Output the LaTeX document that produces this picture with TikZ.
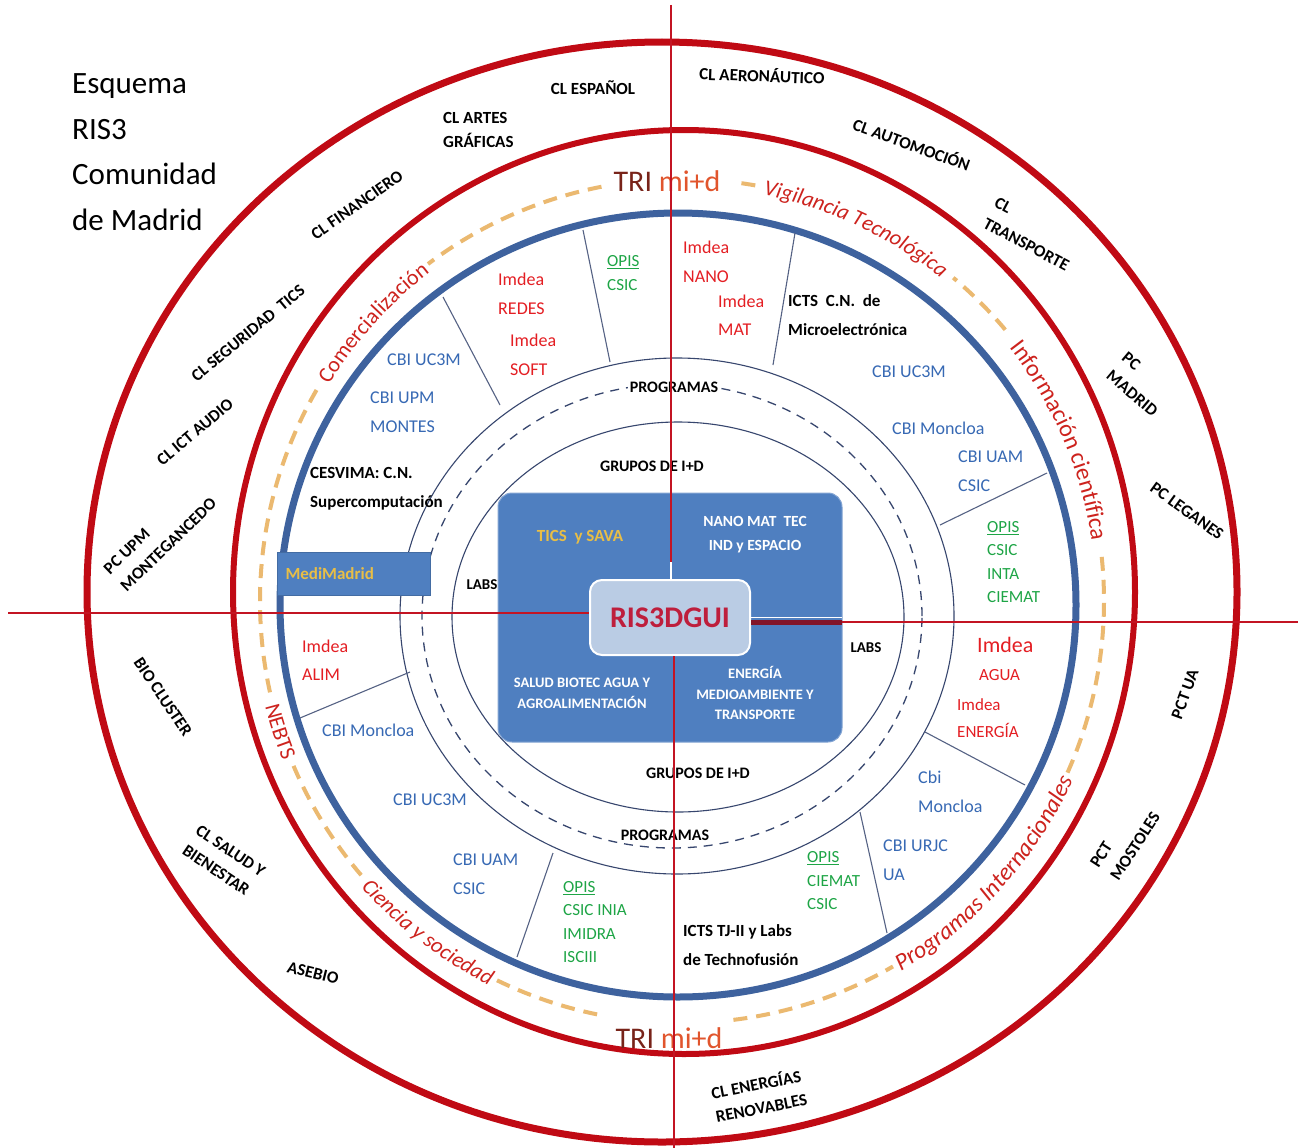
\documentclass[tikz,border=0pt]{standalone}
\usepackage{fontspec}
\setmainfont{Carlito}
\usetikzlibrary{decorations.text}
\definecolor{ringred}{RGB}{192,10,20}
\definecolor{ringblue}{RGB}{62,98,158}
\definecolor{dashor}{RGB}{235,185,112}
\definecolor{thinc}{RGB}{55,70,110}
\definecolor{boxblue}{RGB}{79,127,192}
\definecolor{risfill}{RGB}{186,204,228}
\definecolor{risred}{RGB}{190,30,60}
\definecolor{lblblue}{RGB}{55,105,180}
\definecolor{lblred}{RGB}{228,30,35}
\definecolor{lblgreen}{RGB}{30,165,70}
\definecolor{gold}{RGB}{232,190,70}
\definecolor{curvred}{RGB}{205,35,30}
\definecolor{axred}{RGB}{195,20,35}
\definecolor{axmaroon}{RGB}{130,20,40}
\definecolor{trid}{RGB}{120,35,25}
\definecolor{trio}{RGB}{225,85,45}
\newcommand\cfIt{\fontsize{22}{22}\selectfont\itshape}
\newcommand\cfBig{\fontsize{24}{24}\selectfont}
\newcommand\cfReg{\fontsize{22}{22}\selectfont}
\newcommand\cfProg{\fontsize{24}{24}\selectfont\itshape}
\tikzset{
  lab/.style={inner sep=0pt, font=\fontsize{18}{28.5}\selectfont, align=left},
  inl/.style={lab, anchor=west},
  blk/.style={inl, font=\fontsize{17}{28.5}\selectfont\bfseries},
  opisl/.style={inl, text=lblgreen, font=\fontsize{17}{23.5}\selectfont},
  outl/.style={inner sep=0pt, font=\fontsize{17}{24}\selectfont\bfseries, align=left},
  ctrl/.style={inner sep=0pt, font=\fontsize{16}{20}\selectfont\bfseries},
  qtxt/.style={inner sep=0pt, font=\fontsize{14.5}{21}\selectfont\bfseries, align=center},
  sect/.style={draw=thinc!85, line width=1.1},
  axis/.style={draw=axred, line width=2.4},
  odash/.style={draw=dashor, line width=4, dash pattern=on 14 off 9},
  ctext/.style={decorate, decoration={text along path, text align=center, text color=curvred, text={#1}}}
}
\newcommand\oarc[2]{\draw[odash] ([shift={(#1:422)}]682,-601) arc[start angle=#1, end angle=#2, radius=422];}
\begin{document}
\begin{tikzpicture}[x=1pt,y=1pt]
\useasboundingbox (0,0) rectangle (1298,-1148);
\fill[white] (0,0) rectangle (1298,-1148);
% title
\node[anchor=west, align=left, inner sep=0pt, font=\fontsize{31}{45.5}\selectfont] (ttl) at (72,-152) {Esquema\\RIS3\\Comunidad\\de Madrid};
% rings
\draw[ringred, line width=7] (662,-592) ellipse [x radius=575, y radius=550];
\draw[ringred, line width=6] (684,-592) ellipse [x radius=451, y radius=462];
\oarc{-24}{6}
\oarc{40}{50}
\oarc{80}{83}
\oarc{101}{127}
\oarc{150}{193}
\oarc{203}{221}
\oarc{244}{259}
\oarc{277}{300}
\draw[ringblue, line width=7] (678,-605) ellipse [x radius=398, y radius=392];
\draw[thinc, line width=1.1] (677,-616) ellipse [x radius=277, y radius=258];
\draw[thinc, line width=1.3, dash pattern=on 9 off 7] (672,-616) ellipse [x radius=250, y radius=232];
\draw[thinc, line width=1.1] (678,-617) ellipse [x radius=226, y radius=195];
% sector lines
\draw[sect] (443,-297) -- (500,-405);
\draw[sect] (583,-230) -- (610,-362);
\draw[sect] (795,-233) -- (773,-365);
\draw[sect] (1047,-473) -- (940,-525);
\draw[sect] (925,-732) -- (1025,-785);
\draw[sect] (860,-812) -- (887,-933);
\draw[sect] (553,-853) -- (517,-957);
\draw[sect] (300,-718) -- (410,-672);
% curved texts on orange ring
\path[ctext={|\cfIt|Vigilancia Tecnológica}] ([shift={(92:414)}]682,-601) arc[start angle=92, end angle=38, radius=414];
\path[ctext={|\cfBig|Información científica}] ([shift={(52:414)}]682,-601) arc[start angle=52, end angle=-6, radius=414];
\path[ctext={|\cfReg|Comercialización}] ([shift={(166:414)}]682,-601) arc[start angle=166, end angle=110, radius=414];
\path[ctext={|\cfProg|Programas Internacionales}] ([shift={(-74:430)}]682,-601) arc[start angle=-74, end angle=-10, radius=430];
\path[ctext={|\cfIt|Ciencia y sociedad}] ([shift={(206:430)}]682,-601) arc[start angle=206, end angle=259, radius=430];
\path[ctext={|\cfReg|NEBTS}] ([shift={(184:430)}]682,-601) arc[start angle=184, end angle=212, radius=430];
\node[inner sep=0pt, font=\fontsize{30}{30}\selectfont] (tri1) at (667,-181) {\textcolor{trid}{TRI} \textcolor{trio}{mi+d}};
\node[inner sep=0pt, font=\fontsize{30}{30}\selectfont] (tri2) at (669,-1038) {\textcolor{trid}{TRI} \textcolor{trio}{mi+d}};
% outer ring labels
\node[outl] (o1) at (593,-88) {CL ESPAÑOL};
\node[outl, rotate=-2] (o2) at (762,-75) {CL AERONÁUTICO};
\node[outl, anchor=west] (o3) at (443,-130) {CL ARTES\\GRÁFICAS};
\node[outl, rotate=-20] (o4) at (912,-144) {CL AUTOMOCIÓN};
\node[outl, rotate=-28] (o5) at (1032,-234) {CL\\TRANSPORTE};
\node[outl, rotate=-40] (o6) at (1140,-384) {PC\\MADRID};
\node[outl, rotate=-36] (o7) at (1187,-511) {PC LEGANES};
\node[outl, rotate=70] (o8) at (1185,-694) {PCT UA};
\node[outl, rotate=57] (o9) at (1125,-840) {PCT\\MOSTOLES};
\node[outl, rotate=11] (o10) at (759,-1095) {CL ENERGÍAS\\RENOVABLES};
\node[outl, rotate=-14] (o11) at (313,-973) {ASEBIO};
\node[outl, rotate=-34] (o12) at (224,-861) {CL SALUD Y\\BIENESTAR};
\node[outl, rotate=-56] (o13) at (163,-697) {BIO CLUSTER};
\node[outl, rotate=44] (o14) at (160,-536) {PC UPM\\MONTEGANCEDO};
\node[outl, rotate=40] (o15) at (195,-432) {CL ICT AUDIO};
\node[outl, rotate=39.5] (o16) at (248,-333) {CL SEGURIDAD\ \ TICS};
\node[outl, rotate=35] (o17) at (357,-205) {CL FINANCIERO};
% inner ring labels
\node[inl, text=lblblue] (i1) at (387,-360) {CBI UC3M};
\node[inl, text=lblblue] (i2) at (370,-412) {CBI UPM\\MONTES};
\node[blk] (i3) at (310,-489) {CESVIMA: C.N.\\Supercomputación};
\node[inl, text=lblred] (i4) at (498,-294) {Imdea\\REDES};
\node[inl, text=lblred] (i5) at (510,-355) {Imdea\\SOFT};
\node[opisl] (i6) at (607,-273) {\underline{OPIS}\\CSIC};
\node[inl, text=lblred] (i7) at (683,-262) {Imdea\\NANO};
\node[inl, text=lblred] (i8) at (718,-315) {Imdea\\MAT};
\node[blk] (i9) at (788,-315) {ICTS\ \ C.N.\ \ de\\Microelectrónica};
\node[inl, text=lblblue] (i10) at (872,-372) {CBI UC3M};
\node[inl, text=lblblue] (i11) at (892,-428) {CBI Moncloa};
\node[inl, text=lblblue] (i12) at (958,-471) {CBI UAM\\CSIC};
\node[opisl] (i13) at (987,-562) {\underline{OPIS}\\CSIC\\INTA\\CIEMAT};
\node[inl, text=lblred, font=\fontsize{22}{22}\selectfont] (i14) at (977,-645) {Imdea};
\node[inl, text=lblred, font=\fontsize{17}{17}\selectfont] (i14b) at (979,-675) {AGUA};
\node[inl, text=lblred, font=\fontsize{17}{27}\selectfont] (i15) at (957,-718) {Imdea\\ENERGÍA};
\node[inl, text=lblblue] (i16) at (918,-792) {Cbi\\Moncloa};
\node[inl, text=lblblue] (i17) at (883,-860) {CBI URJC\\UA};
\node[opisl] (i18) at (807,-881) {\underline{OPIS}\\CIEMAT\\CSIC};
\node[blk] (i19) at (683,-945) {ICTS TJ-II y Labs\\de Technofusión};
\node[opisl] (i20) at (563,-922) {\underline{OPIS}\\CSIC INIA\\IMIDRA\\ISCIII};
\node[inl, text=lblblue] (i21) at (453,-874) {CBI UAM\\CSIC};
\node[inl, text=lblblue] (i22) at (393,-800) {CBI UC3M};
\node[inl, text=lblblue] (i23) at (322,-730) {CBI Moncloa};
\node[inl, text=lblred] (i24) at (302,-660) {Imdea\\ALIM};
% MediMadrid box
\node[fill=boxblue, draw=boxblue!85!black, line width=1, anchor=west, minimum height=43pt, text width=137pt, inner xsep=8pt, inner ysep=0pt, align=left, text=gold, font=\fontsize{17}{17}\selectfont\bfseries] (medi) at (277,-573.5) {MediMadrid};
% circle-band labels
\node[ctrl] (g1) at (652,-466) {GRUPOS DE I+D};
\node[ctrl] (g2) at (698,-773) {GRUPOS DE I+D};
\node[ctrl, fill=white, inner sep=2pt] (p1) at (674,-387) {PROGRAMAS};
\node[ctrl] (p2) at (665,-835) {PROGRAMAS};
\node[ctrl, font=\fontsize{15}{15}\selectfont\bfseries] (l1) at (482,-585) {LABS};
\node[ctrl, font=\fontsize{15}{15}\selectfont\bfseries] (l2) at (866,-648) {LABS};
% central box
\node[fill=boxblue, draw=boxblue!70!white, line width=1, rounded corners=14pt, minimum width=344pt, minimum height=249pt, inner sep=0pt] (bbox) at (670,-617.5) {};
\node[qtxt, text=gold, font=\fontsize{17}{17}\selectfont\bfseries] (q1) at (580,-537) {TICS\ \ y SAVA};
\node[qtxt, text=white, font=\fontsize{15.5}{24}\selectfont\bfseries] (q2) at (755,-535) {NANO MAT\ \ TEC\\IND y ESPACIO};
\node[qtxt, text=white] (q3) at (582,-693) {SALUD BIOTEC AGUA Y\\AGROALIMENTACIÓN};
\node[qtxt, text=white, font=\fontsize{14.5}{20.5}\selectfont\bfseries] (q4) at (755,-693) {ENERGÍA\\MEDIOAMBIENTE Y\\TRANSPORTE};
\node[fill=risfill, draw=white, line width=2, rounded corners=12pt, minimum width=160pt, minimum height=75pt, inner sep=0pt, text=risred, font=\fontsize{30}{30}\selectfont\bfseries] (ris) at (670,-617.5) {RIS3DGUI};
% axes
\coordinate (axT) at (671,-5);
\coordinate (axTw) at (671,-562);
\coordinate (axB) at (674,-1148);
\coordinate (axL) at (8,-613);
\coordinate (axR) at (1298,-622);
\coordinate (axRb) at (842,-622);
\draw[axis] (axT) -- (axTw);
\draw[white, line width=1.5] (axTw) -- (axTw |- ris.north);
\draw[axis] (axB) -- (axB |- ris.south);
\draw[axis] (axL) -- (axL -| ris.west);
\draw[axmaroon, line width=5] (axRb -| ris.east) -- (axRb);
\draw[white, line width=1] ([yshift=4.5pt]axRb -| ris.east) -- ([yshift=4.5pt]axRb);
\draw[axis] (axRb) -- (axR);
\end{tikzpicture}
\end{document}
